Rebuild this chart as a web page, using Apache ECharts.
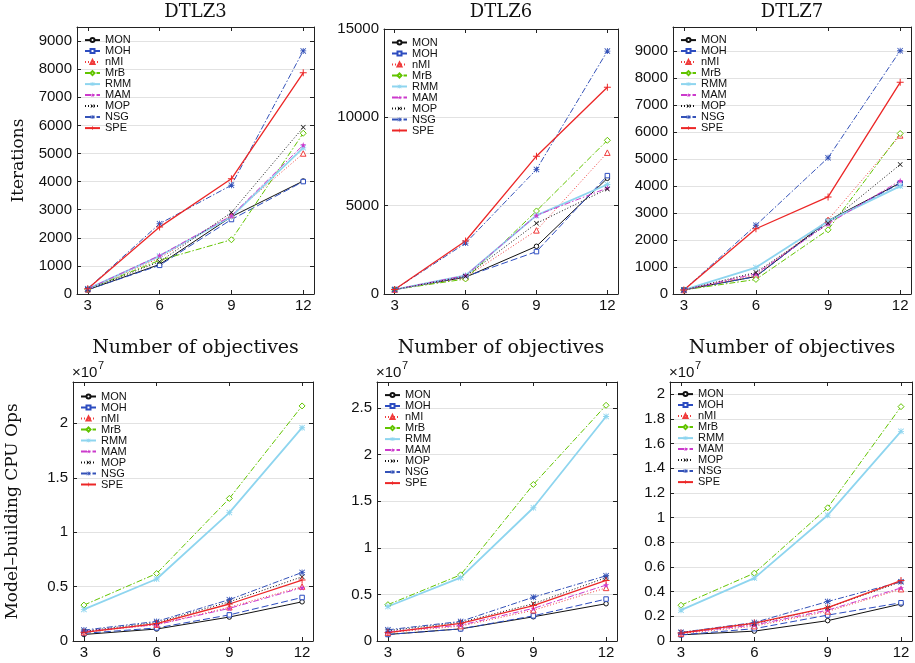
<!DOCTYPE html>
<html>
<head>
<meta charset="utf-8">
<script src="https://cdn.jsdelivr.net/npm/echarts@6/dist/echarts.min.js"></script>
<style>
  html, body { margin: 0; padding: 0; background: #fff; }
  #chart { width: 915px; height: 663px; }
</style>
</head>
<body>
<div id="chart"></div>
<script>
// Number of objectives on the x axis
const objectives = [3, 6, 9, 12];
const methods = ['MON', 'MOH', 'nMI', 'MrB', 'RMM', 'MAM', 'MOP', 'NSG', 'SPE'];
const problems = ['DTLZ3', 'DTLZ6', 'DTLZ7'];

// Iterations; one row per method, in the order of `methods`
const itersDTLZ3 = [
  [150, 1050, 2750, 4020],
  [150, 1020, 2650, 4000],
  [170, 1280, 2800, 5000],
  [170, 1200, 1930, 5720],
  [180, 1350, 2750, 5200],
  [180, 1370, 2780, 5300],
  [160, 1150, 2900, 5930],
  [190, 2500, 3870, 8650],
  [190, 2380, 4100, 7870]
];
const itersDTLZ6 = [
  [250, 950, 2700, 6550],
  [250, 980, 2400, 6700],
  [250, 950, 3600, 8000],
  [250, 850, 4700, 8700],
  [250, 1050, 4450, 6200],
  [250, 1050, 4450, 6000],
  [250, 1000, 4000, 5950],
  [250, 2880, 7050, 13750],
  [250, 3000, 7800, 11700]
];
const itersDTLZ7 = [
  [150, 650, 2720, 4120],
  [150, 650, 2680, 4100],
  [150, 700, 2750, 5880],
  [150, 540, 2380, 5950],
  [150, 980, 2700, 4000],
  [150, 750, 2600, 4200],
  [150, 800, 2620, 4800],
  [150, 2550, 5050, 9020],
  [150, 2420, 3600, 7850]
];

// Model-building CPU operations, in units of 1e7
const opsDTLZ3 = [
  [0.06, 0.11, 0.22, 0.36],
  [0.07, 0.12, 0.24, 0.40],
  [0.08, 0.15, 0.31, 0.50],
  [0.33, 0.62, 1.31, 2.16],
  [0.29, 0.57, 1.18, 1.96],
  [0.09, 0.15, 0.30, 0.49],
  [0.09, 0.17, 0.36, 0.59],
  [0.10, 0.18, 0.38, 0.63],
  [0.08, 0.16, 0.34, 0.56]
];
const opsDTLZ6 = [
  [0.07, 0.13, 0.26, 0.40],
  [0.07, 0.13, 0.27, 0.45],
  [0.09, 0.16, 0.33, 0.57],
  [0.39, 0.71, 1.68, 2.53],
  [0.37, 0.68, 1.43, 2.41],
  [0.10, 0.17, 0.35, 0.60],
  [0.11, 0.20, 0.40, 0.68],
  [0.12, 0.21, 0.47, 0.70],
  [0.09, 0.19, 0.38, 0.65]
];
const opsDTLZ7 = [
  [0.05, 0.08, 0.165, 0.30],
  [0.05, 0.10, 0.21, 0.31],
  [0.06, 0.12, 0.24, 0.42],
  [0.29, 0.55, 1.08, 1.90],
  [0.25, 0.51, 1.02, 1.70],
  [0.065, 0.13, 0.25, 0.43],
  [0.07, 0.14, 0.27, 0.48],
  [0.07, 0.15, 0.32, 0.48],
  [0.065, 0.145, 0.27, 0.49]
];

// y-axis scales: upper bound and tick step for each panel
const iterAxisMax = [9500, 15000, 9900];
const iterAxisStep = [1000, 5000, 1000];
const opsAxisMax = [2.38, 2.78, 2.1];
const opsAxisStep = [0.5, 0.5, 0.2];

const FONT_SANS = '"Liberation Sans", Arial, Helvetica, sans-serif';
const FONT_SERIF = '"DejaVu Serif", serif';
const AXIS_COLOR = '#222';

// Marker shapes drawn as filled outlines on a 10x10 box
const SYM = {
  plus: 'path://M4.3,0H5.7V4.3H10V5.7H5.7V10H4.3V5.7H0V4.3H4.3Z',
  cross: 'path://M1,0L5,4L9,0L10,1L6,5L10,9L9,10L5,6L1,10L0,9L4,5L0,1Z',
  aster: 'path://M4.3,0H5.7V4.3H10V5.7H5.7V10H4.3V5.7H0V4.3H4.3Z M1,0L5,4L9,0L10,1L6,5L10,9L9,10L5,6L1,10L0,9L4,5L0,1Z',
  penta: 'path://M5,0L6.2,3.6L10,3.6L6.9,5.9L8.1,9.5L5,7.3L1.9,9.5L3.1,5.9L0,3.6L3.8,3.6Z'
};

// Per-method drawing style
const methodColor = ['#111111', '#2c4cc0', '#f03c3c', '#62c400', '#8ed5ef', '#cc3acc', '#111111', '#3452b8', '#ec2626'];
const methodDash = ['solid', [7, 3], [1, 2], [6, 2, 1.5, 2], 'solid', [6, 2, 1.5, 2], [1, 2], [6, 2, 1.5, 2], 'solid'];
const methodWidth = [1, 1, 1, 1, 1.8, 1, 1, 1, 1.3];
const methodSymbol = ['circle', 'rect', 'triangle', 'diamond', SYM.aster, SYM.penta, SYM.cross, SYM.aster, SYM.plus];
const methodHollow = [true, true, true, true, false, false, false, false, false];
const methodSymbolSize = [4.5, 4.5, 5.5, 6, 6, 6, 5, 6, 7];

// Panel boxes: top row = iterations, bottom row = CPU ops
const gridRects = [
  { left: 77, top: 27, width: 237, height: 267 },
  { left: 384, top: 29, width: 234, height: 265 },
  { left: 673, top: 27, width: 238, height: 267 },
  { left: 73, top: 382, width: 240, height: 259 },
  { left: 377, top: 382, width: 240, height: 259 },
  { left: 670, top: 382, width: 242, height: 259 }
];
const legendPos = [[84, 34.6], [391, 37], [680, 34.6], [80, 391], [384, 389.6], [677, 388.6]];

const panelRows = [itersDTLZ3, itersDTLZ6, itersDTLZ7, opsDTLZ3, opsDTLZ6, opsDTLZ7];
const panelMax = iterAxisMax.concat(opsAxisMax);
const panelStep = iterAxisStep.concat(opsAxisStep);

const xAxes = [], yAxes = [], series = [];

gridRects.forEach((g, i) => {
  const topRow = i < 3;
  const xCommon = { type: 'value', gridIndex: i, min: 2.55, max: 12.45 };
  const lineSt = { show: true, onZero: false, lineStyle: { color: AXIS_COLOR, width: 1 } };
  const tickSt = { show: true, inside: true, length: 4, customValues: objectives, lineStyle: { color: AXIS_COLOR } };
  xAxes.push(Object.assign({}, xCommon, {
    position: 'bottom',
    axisLine: lineSt,
    axisTick: tickSt,
    axisLabel: { customValues: objectives, fontSize: 15, fontFamily: FONT_SANS, color: '#111', margin: 4 },
    splitLine: { show: false },
    name: topRow ? 'Number of objectives' : '',
    nameLocation: 'middle',
    nameGap: 45,
    nameTextStyle: { fontFamily: FONT_SERIF, fontSize: 19, color: '#111' }
  }));
  xAxes.push(Object.assign({}, xCommon, {
    position: 'top',
    axisLine: lineSt,
    axisTick: tickSt,
    axisLabel: { show: false },
    splitLine: { show: false }
  }));

  const max = panelMax[i], step = panelStep[i];
  const fmt = v => {
    const q = v / step;
    if (Math.abs(q - Math.round(q)) > 1e-6) return '';
    return String(parseFloat(v.toFixed(3)));
  };
  const yCommon = { type: 'value', gridIndex: i, min: 0, max: max, interval: step };
  const yTick = { show: true, inside: true, length: 4, lineStyle: { color: AXIS_COLOR } };
  let yName = '';
  if (i === 0) yName = 'Iterations';
  if (i === 3) yName = 'Model\u2013building CPU Ops';
  yAxes.push(Object.assign({}, yCommon, {
    position: 'left',
    axisLine: lineSt,
    axisTick: yTick,
    axisLabel: { formatter: fmt, fontSize: 15, fontFamily: FONT_SANS, color: '#111', margin: 5 },
    splitLine: { show: true, lineStyle: { color: '#e2e2e2', width: 1 } },
    name: yName,
    nameLocation: 'middle',
    nameGap: i === 0 ? 50 : 52,
    nameTextStyle: { fontFamily: FONT_SERIF, fontSize: 17, color: '#111' }
  }));
  yAxes.push(Object.assign({}, yCommon, {
    position: 'right',
    axisLine: lineSt,
    axisTick: yTick,
    axisLabel: { show: false },
    splitLine: { show: false }
  }));

  const rows = panelRows[i];
  methods.forEach((name, k) => {
    series.push({
      type: 'line',
      name: name,
      xAxisIndex: 2 * i,
      yAxisIndex: 2 * i,
      data: objectives.map((x, j) => [x, rows[k][j]]),
      symbol: methodSymbol[k],
      symbolSize: methodSymbolSize[k],
      showAllSymbol: true,
      clip: false,
      lineStyle: { color: methodColor[k], width: methodWidth[k], type: methodDash[k] },
      itemStyle: methodHollow[k]
        ? { color: '#ffffff', borderColor: methodColor[k], borderWidth: 1 }
        : { color: methodColor[k], borderWidth: 0 },
      emphasis: { disabled: true },
      z: 3
    });
  });
});

const titles = problems.map((p, i) => ({
  text: p,
  left: gridRects[i].left + gridRects[i].width / 2,
  top: 3,
  textAlign: 'center',
  padding: 0,
  textStyle: { fontFamily: FONT_SERIF, fontSize: 18, fontWeight: 'normal', color: '#111' }
}));

const legends = legendPos.map(([l, t]) => ({
  orient: 'vertical',
  left: l,
  top: t,
  padding: 0,
  itemGap: 0,
  itemWidth: 15,
  itemHeight: 5,
  selectedMode: false,
  data: methods,
  textStyle: { fontSize: 11, fontFamily: FONT_SANS, color: '#111', lineHeight: 9.4 }
}));

// "x10^7" multiplier above each CPU-ops panel
const graphics = [];
[3, 4, 5].forEach(i => {
  const x0 = gridRects[i].left - 1;
  graphics.push({
    type: 'text', x: x0, y: 373,
    style: { text: '\u00d710', fontSize: 15, fontFamily: FONT_SANS, fill: '#111', verticalAlign: 'middle' }
  });
  graphics.push({
    type: 'text', x: x0 + 26, y: 365.5,
    style: { text: '7', fontSize: 11, fontFamily: FONT_SANS, fill: '#111', verticalAlign: 'middle' }
  });
});

const chart = echarts.init(document.getElementById('chart'), null, { renderer: 'canvas' });
chart.setOption({
  animation: false,
  backgroundColor: '#ffffff',
  title: titles,
  legend: legends,
  grid: gridRects,
  xAxis: xAxes,
  yAxis: yAxes,
  graphic: graphics,
  series: series
});
</script>
</body>
</html>
